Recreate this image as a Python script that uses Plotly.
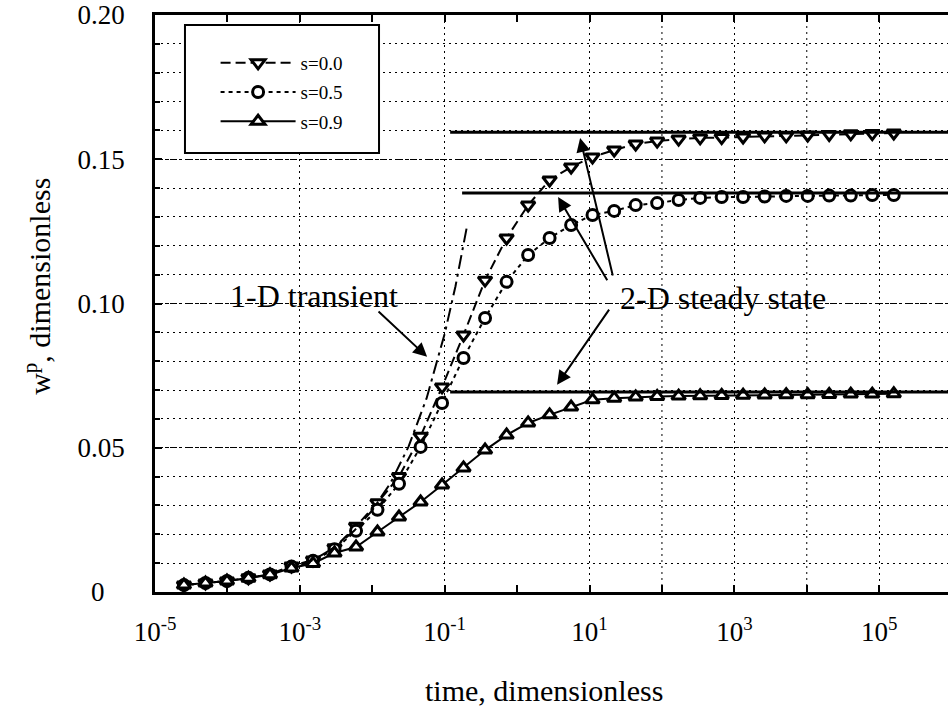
import math
import plotly.graph_objects as go

# ---------------- data ----------------
time = [2.51e-5, 4.98e-5, 9.86e-5, 1.95e-4, 3.87e-4, 7.67e-4, 1.52e-3, 3.01e-3,
        5.97e-3, 1.18e-2, 2.34e-2, 4.65e-2, 9.20e-2, 0.182, 0.361, 0.716, 1.42,
        2.81, 5.57, 11.0, 21.9, 43.4, 85.9, 170, 337, 668, 1320, 2620, 5200,
        10300, 20400, 40500, 80200, 159000]

w_s00 = [0.0024, 0.0031, 0.0038, 0.0049, 0.0062, 0.0090, 0.0111, 0.0153,
         0.0228, 0.0309, 0.0400, 0.0540, 0.0711, 0.0891, 0.1081, 0.1227, 0.1341,
         0.1428, 0.1473, 0.1508, 0.1532, 0.1553, 0.1563, 0.1570, 0.1574, 0.1575,
         0.1577, 0.1581, 0.1581, 0.1584, 0.1586, 0.1588, 0.1589, 0.1591]

w_s05 = [0.0024, 0.0031, 0.0038, 0.0049, 0.0061, 0.0088, 0.0108, 0.0148,
         0.0212, 0.0285, 0.0375, 0.0503, 0.0655, 0.0811, 0.0950, 0.1075, 0.1168,
         0.1227, 0.1272, 0.1307, 0.1321, 0.1341, 0.1348, 0.1359, 0.1366, 0.1369,
         0.1369, 0.1371, 0.1373, 0.1373, 0.1374, 0.1374, 0.1376, 0.1376]

w_s09 = [0.0024, 0.0031, 0.0038, 0.0048, 0.0060, 0.0083, 0.0099, 0.0135,
         0.0156, 0.0208, 0.0260, 0.0312, 0.0371, 0.0430, 0.0492, 0.0544, 0.0586,
         0.0614, 0.0641, 0.0666, 0.0672, 0.0676, 0.0678, 0.0679, 0.0680, 0.0681,
         0.0682, 0.0683, 0.0684, 0.0684, 0.0685, 0.0686, 0.0686, 0.0687]

# 1-D transient solution
t_1d = [0.001, 0.00178, 0.00316, 0.00562, 0.01, 0.0178, 0.0316, 0.0562, 0.1, 0.141, 0.204]
w_1d = [0.0090, 0.0119, 0.0159, 0.0212, 0.0283, 0.0377, 0.0503, 0.0671, 0.0895, 0.106, 0.127]

# 2-D steady state levels (start time, value)
ss_start = [0.119, 0.174, 0.119]
ss_value = [0.1594, 0.1383, 0.0693]
t_end = 1.0e6

series_names = ["s=0.0", "s=0.5", "s=0.9"]

x_tickvals = [1e-5, 1e-3, 1e-1, 1e1, 1e3, 1e5]
x_ticktext = ["10<sup>-5</sup>", "10<sup>-3</sup>", "10<sup>-1</sup>",
              "10<sup>1</sup>", "10<sup>3</sup>", "10<sup>5</sup>"]
x_minor_vals = [1e-4, 1e-2, 1e0, 1e2, 1e4, 1e6]
y_tickvals = [0, 0.05, 0.10, 0.15, 0.20]
y_ticktext = ["0\u00a0\u00a0\u00a0", "0.05", "0.10", "0.15", "0.20"]

FONT = "Liberation Serif"

fig = go.Figure()

styles = [
    dict(dash="10px,5px", symbol="triangle-down", size=12),
    dict(dash="4px,4px", symbol="circle", size=11),
    dict(dash="solid", symbol="triangle-up", size=12),
]
for name, w, st in zip(series_names, [w_s00, w_s05, w_s09], styles):
    fig.add_trace(go.Scatter(
        x=time, y=w, name=name, mode="lines+markers", legendgroup=name,
        line=dict(color="black", width=2, dash=st["dash"]),
        marker=dict(symbol=st["symbol"], size=st["size"], color="white",
                    line=dict(color="black", width=3)),
    ))

fig.add_trace(go.Scatter(
    x=t_1d, y=w_1d, mode="lines", showlegend=False,
    line=dict(color="black", width=2, dash="14px,5px,3px,5px"),
))

for t0, v in zip(ss_start, ss_value):
    fig.add_trace(go.Scatter(
        x=[t0, t_end], y=[v, v], mode="lines", showlegend=False,
        line=dict(color="black", width=3),
    ))

# extra vertical grid lines at 10^2 and 10^4
shapes = []
for xv in [1e2, 1e4]:
    shapes.append(dict(type="line", xref="x", yref="paper", x0=xv, x1=xv, y0=0, y1=1,
                       line=dict(color="black", width=1, dash="2px,4px"), layer="below"))
# legend frame
shapes.append(dict(type="rect", xref="paper", yref="paper", x0=0.0378, x1=0.2825,
                   y0=0.7608, y1=0.9827, line=dict(color="black", width=2),
                   fillcolor="white", layer="above"))

ANN_FONT = dict(family=FONT, size=32, color="black")
annotations = [
    dict(x=-1.616, y=0.1025, xref="x", yref="y", text="1-D transient",
         showarrow=False, xanchor="right", yanchor="middle", font=ANN_FONT),
    dict(x=1.395, y=0.1020, xref="x", yref="y", text="2-D steady state",
         showarrow=False, xanchor="left", yanchor="middle", font=ANN_FONT),
]
arrows = [  # (head log10 t, head w, tail log10 t, tail w)
    (-1.243, 0.0815, -1.934, 0.0977),
    (0.870, 0.1574, 1.326, 0.1092),
    (0.566, 0.1369, 1.257, 0.1075),
    (0.552, 0.0718, 1.285, 0.0984),
]
for hx, hy, tx, ty in arrows:
    annotations.append(dict(x=hx, y=hy, ax=tx, ay=ty, xref="x", yref="y",
                            axref="x", ayref="y", text="", showarrow=True,
                            arrowhead=2, arrowsize=1.4, arrowwidth=2, arrowcolor="black"))

annotations.append(dict(x=0.49, y=-0.17, xref="paper", yref="paper",
                        text="time, dimensionless", showarrow=False,
                        xanchor="center", yanchor="middle",
                        font=dict(family=FONT, size=30, color="black")))
annotations.append(dict(x=-0.148, y=0.53, xref="paper", yref="paper",
                        text="w<sup>p</sup>, dimensionless", showarrow=False,
                        textangle=-90, xanchor="center", yanchor="middle",
                        font=dict(family=FONT, size=30, color="black")))

fig.update_layout(
    width=948, height=722,
    margin=dict(l=155, r=0, t=15, b=130),
    paper_bgcolor="white", plot_bgcolor="white",
    font=dict(family=FONT, size=27, color="black"),
    shapes=shapes, annotations=annotations,
    showlegend=True,
    legend=dict(x=0.0764, y=0.9497, xanchor="left", yanchor="top",
                bgcolor="rgba(0,0,0,0)", borderwidth=0,
                font=dict(family=FONT, size=19, color="black"),
                itemwidth=75, tracegroupgap=1.5),
    xaxis=dict(type="log", range=[-5, 5.95], tickvals=x_tickvals, ticktext=x_ticktext,
               ticks="inside", ticklen=7, tickwidth=2, tickcolor="black",
               showline=True, linewidth=2.5, linecolor="black", mirror="ticks",
               showgrid=True, gridcolor="black", gridwidth=1, griddash="2px,4px",
               zeroline=False, ticklabelstandoff=14,
               minor=dict(tickvals=x_minor_vals, ticks="inside", ticklen=7,
                          tickwidth=2, tickcolor="black", showgrid=False)),
    yaxis=dict(range=[0, 0.20], tickvals=y_tickvals, ticktext=y_ticktext,
               ticks="inside", ticklen=7, tickwidth=2, tickcolor="black",
               showline=True, linewidth=2.5, linecolor="black", mirror=False,
               showgrid=True, gridcolor="black", gridwidth=1, griddash="7px,3px,2px,3px",
               zeroline=False, ticklabelstandoff=22,
               minor=dict(dtick=0.01, ticks="inside", ticklen=5, tickwidth=1.5,
                          tickcolor="black", showgrid=True, gridcolor="black",
                          gridwidth=1, griddash="2px,4px")),
)

fig.write_html("out.html")
